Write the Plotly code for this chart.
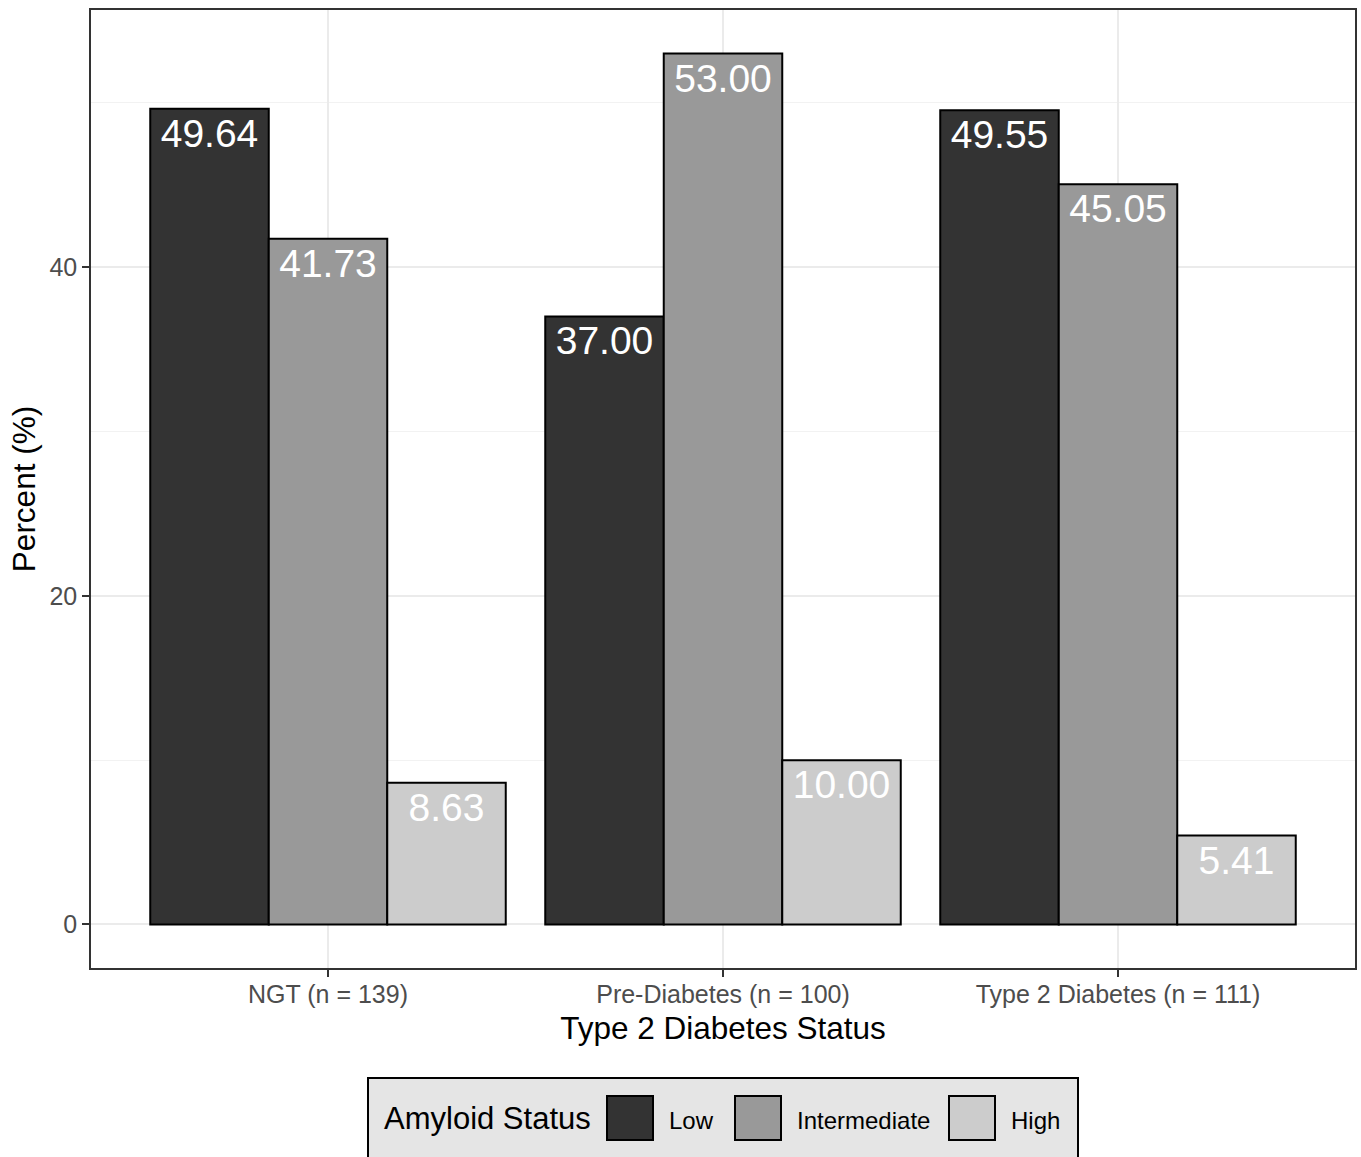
import plotly.graph_objects as go

categories = ["NGT (n = 139)", "Pre-Diabetes (n = 100)", "Type 2 Diabetes (n = 111)"]
series_names = ["Low", "Intermediate", "High"]
low_vals = [49.64, 37.00, 49.55]
intermediate_vals = [41.73, 53.00, 45.05]
high_vals = [8.63, 10.00, 5.41]
colors = ["#333333", "#999999", "#cccccc"]
y_ticks = [0, 20, 40]
legend_title = "Amyloid Status"

FONT = "Liberation Sans, Arial, sans-serif"
W, H = 1361, 1157
ML, MR, MT, MB = 91, 6, 10, 189
PW, PH = W - ML - MR, H - MT - MB


def px_x(p):
    return (p - ML) / PW


def px_y(p):
    return (H - MB - p) / PH


fig = go.Figure()
for name, vals, col in zip(series_names, [low_vals, intermediate_vals, high_vals], colors):
    fig.add_trace(go.Bar(
        name=name, x=categories, y=vals,
        marker=dict(color=col, line=dict(color="black", width=2)),
        text=[f"{v:.2f}" for v in vals],
        textposition="inside", insidetextanchor="end",
        textfont=dict(color="white", size=39, family=FONT),
        constraintext="none",
        showlegend=False,
    ))

# custom ggplot-style legend (large key boxes)
shapes = [dict(type="rect", xref="paper", yref="paper",
               x0=px_x(368), x1=px_x(1078), y0=px_y(1170), y1=px_y(1078),
               fillcolor="#e5e5e5", line=dict(color="black", width=2), layer="above")]
annotations = [dict(text=legend_title, xref="paper", yref="paper", x=px_x(382), y=px_y(1118),
                    xanchor="left", yanchor="middle", showarrow=False,
                    font=dict(size=31, color="black", family=FONT))]
key_left = [607, 735, 949]
for name, col, kx in zip(series_names, colors, key_left):
    shapes.append(dict(type="rect", xref="paper", yref="paper",
                       x0=px_x(kx), x1=px_x(kx + 46), y0=px_y(1140), y1=px_y(1096),
                       fillcolor=col, line=dict(color="black", width=2), layer="above"))
    annotations.append(dict(text=name, xref="paper", yref="paper", x=px_x(kx + 60), y=px_y(1120),
                            xanchor="left", yanchor="middle", showarrow=False,
                            font=dict(size=24, color="black", family=FONT)))

fig.update_layout(
    width=W, height=H,
    margin=dict(l=ML, r=MR, t=MT, b=MB),
    barmode="group", bargap=0.1, bargroupgap=0,
    plot_bgcolor="white", paper_bgcolor="white",
    font=dict(family=FONT, color="black"),
    showlegend=False,
    shapes=shapes, annotations=annotations,
    xaxis=dict(
        range=[-0.6, 2.6], automargin=False,
        showgrid=True, gridcolor="#ebebeb", gridwidth=1.5,
        ticks="outside", ticklen=7, tickcolor="#333333", tickwidth=1.5,
        tickfont=dict(size=25, color="#4d4d4d"),
        ticklabelstandoff=-4,
        title=dict(text="Type 2 Diabetes Status", font=dict(size=31.5, color="black"), standoff=10),
        showline=True, linecolor="#333333", linewidth=1.5, mirror=True,
        zeroline=False,
    ),
    yaxis=dict(
        range=[-2.65, 55.65], automargin=False,
        tickvals=y_ticks,
        showgrid=True, gridcolor="#ebebeb", gridwidth=1.5,
        minor=dict(dtick=10, tick0=0, showgrid=True, gridcolor="#f2f2f2", gridwidth=1),
        ticks="outside", ticklen=7, tickcolor="#333333", tickwidth=1.5,
        tickfont=dict(size=25, color="#4d4d4d"),
        title=dict(text="Percent (%)", font=dict(size=31.5, color="black"), standoff=4),
        showline=True, linecolor="#333333", linewidth=1.5, mirror=True,
        zeroline=False,
    ),
)

fig.write_html(
    "out.html",
    config={"displayModeBar": False},
    post_script="document.body.style.margin='0';document.body.style.overflow='hidden';",
)
